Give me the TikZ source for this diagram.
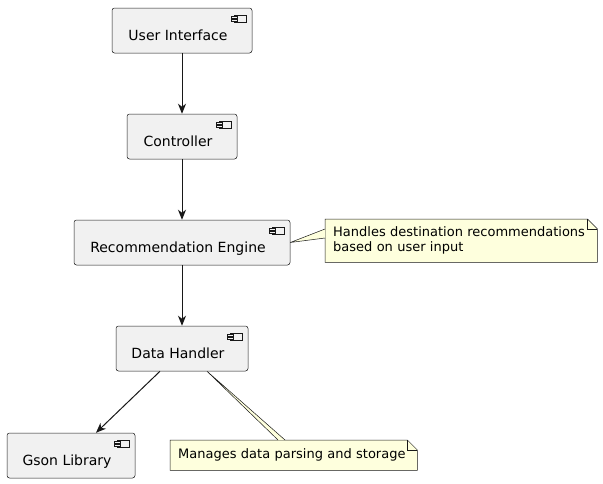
\documentclass[tikz,border=0pt]{standalone}
\usepackage{fontspec}
\setmainfont{DejaVu Sans}
\usetikzlibrary{arrows.meta}

\definecolor{compfill}{HTML}{F1F1F1}
\definecolor{umlline}{HTML}{181818}
\definecolor{notefill}{HTML}{FEFFDD}

\pgfdeclarelayer{background}
\pgfsetlayers{background,main}

\tikzset{
  comp/.style={draw=umlline, fill=compfill, rounded corners=2.5pt, line width=0.5pt,
    minimum height=45pt, inner sep=0pt, text height=22pt, text depth=3pt,
    execute at begin node={\hspace*{-8pt}},
    font=\fontsize{14}{16}\selectfont},
  icon/.style={draw=umlline, fill=compfill, line width=0.5pt},
  note/.style={inner xsep=8pt, inner ysep=0pt, align=left,
    font=\fontsize{13}{15}\selectfont},
  noteshape/.style={draw=umlline, fill=notefill, line width=0.5pt},
  flow/.style={draw=umlline, line width=1pt, -{Stealth[length=10pt,width=8pt,inset=3pt]}}
}

\begin{document}
\begin{tikzpicture}[x=1pt,y=1pt]
      \useasboundingbox (0,0) rectangle (603,-483);

      % components
      \node[comp, minimum width=140pt] (ui) at (182,-30.5) {User Interface};
      \node[comp, minimum width=110pt] (ctrl) at (182,-136.5) {Controller};
      \node[comp, minimum width=216pt] (reng) at (182,-242.5) {Recommendation Engine};
      \node[comp, minimum width=132pt] (dh) at (182,-348.5) {Data Handler};
      \node[comp, minimum width=128pt] (gson) at (71,-455.5) {Gson Library};

      % component icons
      \foreach \n in {ui,ctrl,reng,dh,gson} {
        \draw[icon] ([xshift=-18pt,yshift=-7pt]\n.north east) rectangle ++(12,-7);
        \draw[icon] ([xshift=-21pt,yshift=-8.5pt]\n.north east) rectangle ++(6,-2);
        \draw[icon] ([xshift=-21pt,yshift=-11pt]\n.north east) rectangle ++(6,-2);
      }

      % notes
      \node[note, anchor=north west, text width=256pt, minimum height=43pt] (nreng) at (325,-219)
        {Handles destination recommendations\\based on user input};
      \node[note, anchor=north west, text width=231pt, minimum height=30pt] (ndh) at (170,-440)
        {Manages data parsing and storage};

      \begin{pgfonlayer}{background}
      \foreach \n in {nreng,ndh} {
        \draw[noteshape] (\n.north west) -- ([xshift=-10pt]\n.north east)
          -- ([yshift=-10pt]\n.north east) -- (\n.south east) -- (\n.south west) -- cycle;
        \draw[umlline, line width=0.5pt] ([xshift=-10pt]\n.north east)
          -- ([xshift=-10pt,yshift=-10pt]\n.north east) -- ([yshift=-10pt]\n.north east);
      }
      % note connectors
      \fill[notefill] (reng.east) -- ([yshift=-10pt]nreng.north west) -- ([yshift=-19pt]nreng.north west) -- cycle;
      \draw[umlline, line width=0.5pt] ([yshift=-10pt]nreng.north west) -- (reng.east) -- ([yshift=-19pt]nreng.north west);
      \fill[notefill] ([xshift=25pt]dh.south) -- ([xshift=108pt]ndh.north west) -- ([xshift=115pt]ndh.north west) -- cycle;
      \draw[umlline, line width=0.5pt] ([xshift=108pt]ndh.north west) -- ([xshift=25pt]dh.south) -- ([xshift=115pt]ndh.north west);
      \end{pgfonlayer}

      % dependencies
      \draw[flow] (ui) -- (ctrl);
      \draw[flow] (ctrl) -- (reng);
      \draw[flow] (reng) -- (dh);
      \draw[flow] ([xshift=-22pt]dh.south) -- ([xshift=25pt]gson.north);

\end{tikzpicture}
\end{document}
